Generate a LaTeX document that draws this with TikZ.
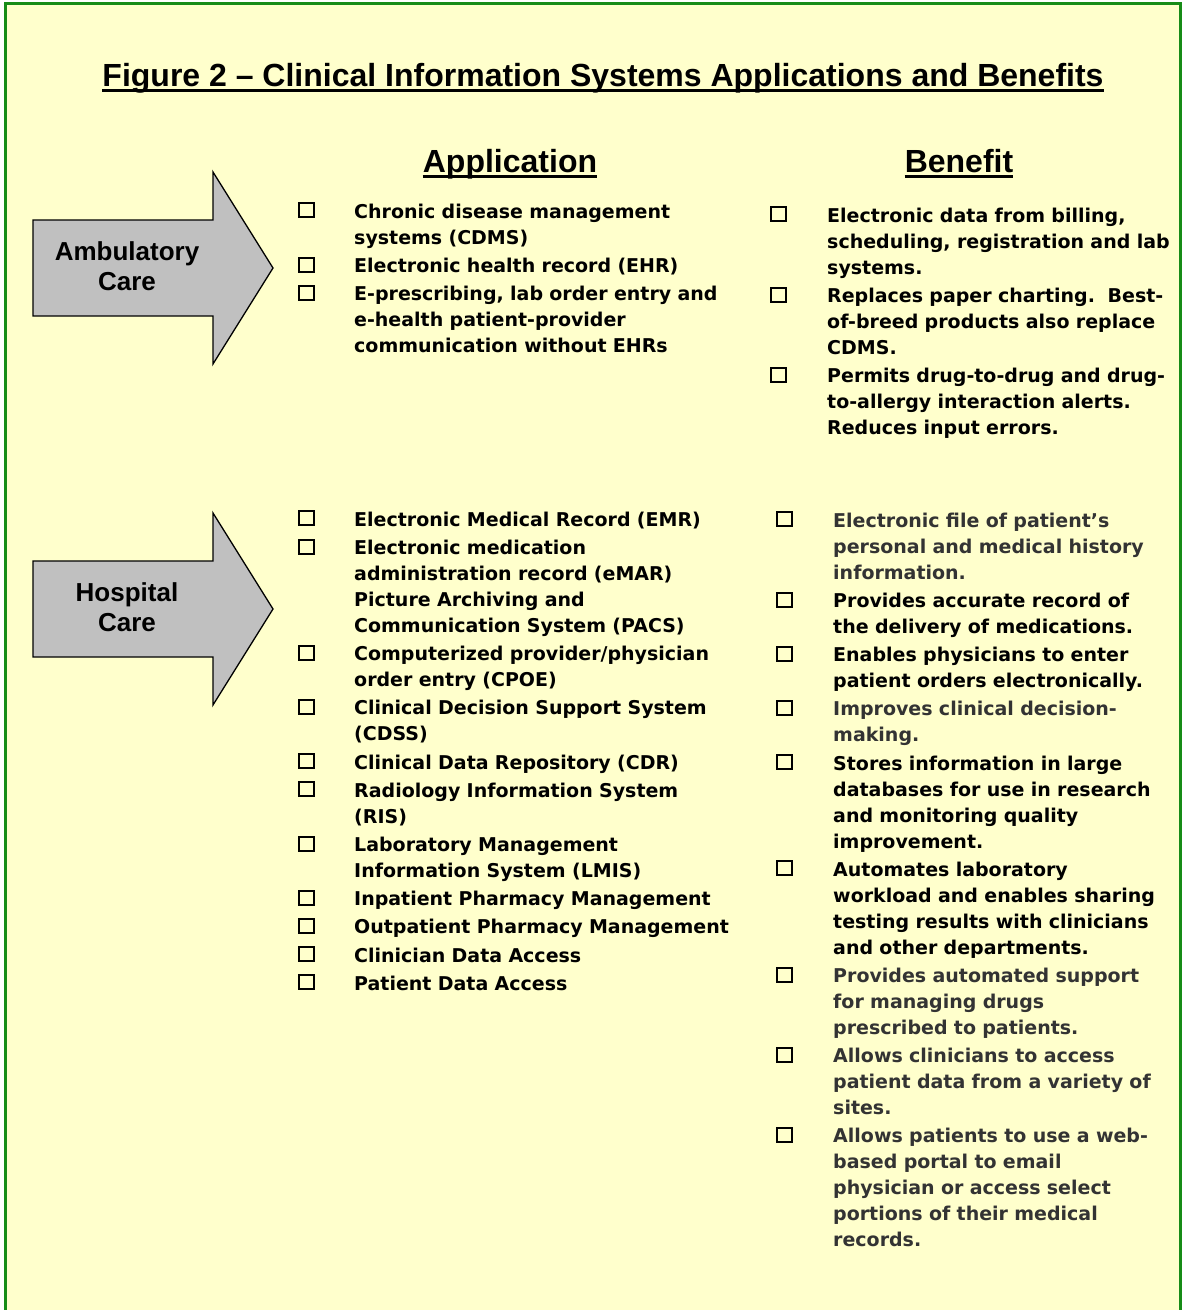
\documentclass[tikz,border=0pt]{standalone}
\usepackage{fontspec}
\setmainfont{Liberation Sans}
\newfontfamily\itemfont{DejaVu Sans}
\usetikzlibrary{positioning}
\definecolor{framegreen}{HTML}{178C17}
\definecolor{notepaper}{HTML}{FFFFCC}
\definecolor{arrowgrey}{HTML}{C0C0C0}

% one grey arrow with its setting written inside
\newcommand{\settingarrow}[3]{%
  \draw[careshape] (33,#2-48) -- (213,#2-48) -- (213,#2-96) -- (273,#2)
    -- (213,#2+96) -- (213,#2+48) -- (33,#2+48) -- cycle;
  \node[caretext] (#1) at (127,#2-2) {#3};}

\begin{document}
\begin{tikzpicture}[x=1pt,y=-1pt,
  heading/.style={font=\bfseries\fontsize{32}{36}\selectfont, inner sep=0pt, anchor=base},
  headline/.style={line width=3pt},
  careshape/.style={draw=black, line width=1.3pt, fill=arrowgrey, line join=miter},
  caretext/.style={font=\bfseries\fontsize{26}{30}\selectfont, align=center, inner sep=0pt},
  entry/.style={font=\itemfont\bfseries\fontsize{19}{26}\selectfont, text width=400pt,
    align=left, inner sep=0pt, anchor=north west,
    execute at begin node=\strut, execute at end node=\strut},
  next/.style={below=1.8pt of #1.south west, anchor=north west},
  faint/.style={text=black!80},
  tickbox/.style={draw=black, line width=2pt, minimum width=15pt, minimum height=14pt, inner sep=0pt},
]
  \useasboundingbox (0,0) rectangle (1184,1310);
  \draw[framegreen, line width=3pt, fill=notepaper] (5.5,3.5) rectangle (1180.5,1340);

  % titles
  \node[heading] (title) at (603,86) {Figure 2 – Clinical Information Systems Applications and Benefits};
  \node[heading] (apphead) at (510,172) {Application};
  \node[heading] (benhead) at (959,172) {Benefit};
  \foreach \h in {title,apphead,benhead}
    \draw[headline] ([yshift=-4.5pt]\h.base west) -- ([yshift=-4.5pt]\h.base east);

  % the two settings
  \settingarrow{ambul}{268}{Ambulatory\\Care}
  \settingarrow{hosp}{609}{Hospital\\Care}

  % ambulatory care
  \node[entry] (a1) at (354,199.8) {Chronic disease management\\systems (CDMS)};
  \node[entry, next=a1] (a2) {Electronic health record (EHR)};
  \node[entry, next=a2] (a3) {E-prescribing, lab order entry and\\e-health patient-provider\\communication without EHRs};

  \node[entry] (b1) at (827,203.8) {Electronic data from billing,\\scheduling, registration and lab\\systems.};
  \node[entry, next=b1] (b2) {Replaces paper charting.\ \ Best-\\of-breed products also replace\\CDMS.};
  \node[entry, next=b2] (b3) {Permits drug-to-drug and drug-\\to-allergy interaction alerts.\\Reduces input errors.};

  % hospital care
  \node[entry] (h1) at (354,507.8) {Electronic Medical Record (EMR)};
  \node[entry, next=h1] (h2) {Electronic medication\\administration record (eMAR)\\Picture Archiving and\\Communication System (PACS)};
  \node[entry, next=h2] (h3) {Computerized provider/physician\\order entry (CPOE)};
  \node[entry, next=h3] (h4) {Clinical Decision Support System\\(CDSS)};
  \node[entry, next=h4] (h5) {Clinical Data Repository (CDR)};
  \node[entry, next=h5] (h6) {Radiology Information System\\(RIS)};
  \node[entry, next=h6] (h7) {Laboratory Management\\Information System (LMIS)};
  \node[entry, next=h7] (h8) {Inpatient Pharmacy Management};
  \node[entry, next=h8] (h9) {Outpatient Pharmacy Management};
  \node[entry, next=h9] (h10) {Clinician Data Access};
  \node[entry, next=h10] (h11) {Patient Data Access};

  \node[entry, faint] (g1) at (833,508.8) {Electronic file of patient’s\\personal and medical history\\information.};
  \node[entry, next=g1] (g2) {Provides accurate record of\\the delivery of medications.};
  \node[entry, next=g2] (g3) {Enables physicians to enter\\patient orders electronically.};
  \node[entry, faint, next=g3] (g4) {Improves clinical decision-\\making.};
  \node[entry, next=g4] (g5) {Stores information in large\\databases for use in research\\and monitoring quality\\improvement.};
  \node[entry, next=g5] (g6) {Automates laboratory\\workload and enables sharing\\testing results with clinicians\\and other departments.};
  \node[entry, faint, next=g6] (g7) {Provides automated support\\for managing drugs\\prescribed to patients.};
  \node[entry, faint, next=g7] (g8) {Allows clinicians to access\\patient data from a variety of\\sites.};
  \node[entry, faint, next=g8] (g9) {Allows patients to use a web-\\based portal to email\\physician or access select\\portions of their medical\\records.};

  % boxes in front of every entry
  \foreach \e in {a1,a2,a3,h1,h2,h3,h4,h5,h6,h7,h8,h9,h10,h11}
    \node[tickbox] at ([xshift=-48pt,yshift=-10.5pt]\e.north west) {};
  \foreach \e in {b1,b2,b3,g1,g2,g3,g4,g5,g6,g7,g8,g9}
    \node[tickbox] at ([xshift=-49pt,yshift=-10.5pt]\e.north west) {};
\end{tikzpicture}
\end{document}
